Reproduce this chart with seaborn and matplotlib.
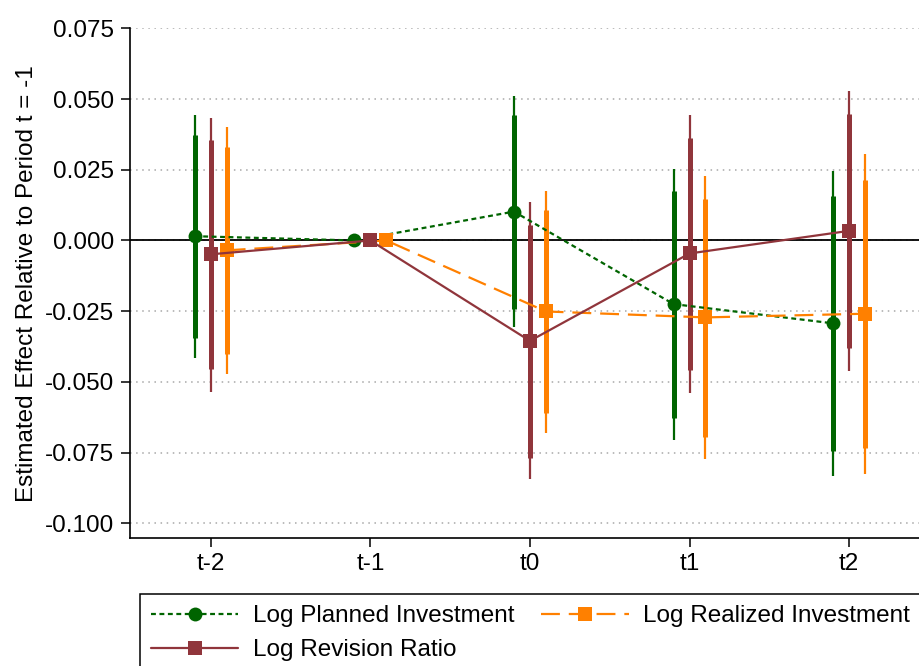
import numpy as np
import pandas as pd
import matplotlib
matplotlib.use("Agg")
import matplotlib.pyplot as plt
from matplotlib.lines import Line2D
import seaborn as sns

# ---------------- data ----------------
periods = ["t-2", "t-1", "t0", "t1", "t2"]

planned_b    = [0.0015, 0.0, 0.0102, -0.0225, -0.0293]
planned_lo90 = [-0.0345, 0.0, -0.0241, -0.0626, -0.0745]
planned_hi90 = [0.0373, 0.0, 0.0444, 0.0174, 0.0158]
planned_lo95 = [-0.0414, 0.0, -0.0306, -0.0704, -0.0832]
planned_hi95 = [0.0444, 0.0, 0.0509, 0.0252, 0.0246]

realized_b    = [-0.0035, 0.0, -0.0251, -0.0272, -0.0259]
realized_lo90 = [-0.0402, 0.0, -0.0610, -0.0694, -0.0733]
realized_hi90 = [0.0332, 0.0, 0.0106, 0.0148, 0.0214]
realized_lo95 = [-0.0473, 0.0, -0.0679, -0.0773, -0.0824]
realized_hi95 = [0.0402, 0.0, 0.0174, 0.0227, 0.0305]

revision_b    = [-0.0049, 0.0, -0.0355, -0.0046, 0.0034]
revision_lo90 = [-0.0456, 0.0, -0.0768, -0.0459, -0.0380]
revision_hi90 = [0.0355, 0.0, 0.0056, 0.0362, 0.0447]
revision_lo95 = [-0.0535, 0.0, -0.0845, -0.0539, -0.0460]
revision_hi95 = [0.0433, 0.0, 0.0135, 0.0444, 0.0527]

series_names = ["Log Planned Investment", "Log Realized Investment", "Log Revision Ratio"]
yticks = [0.075, 0.050, 0.025, 0.000, -0.025, -0.050, -0.075, -0.100]

# ---------------- style ----------------
sns.set_theme(style="white")
plt.rcParams["font.family"] = ["Liberation Sans", "DejaVu Sans"]
plt.rcParams["text.color"] = "black"
plt.rcParams["axes.labelcolor"] = "black"
plt.rcParams["xtick.color"] = "black"
plt.rcParams["ytick.color"] = "black"
FS = 17.5

colors = {"Log Planned Investment": "#006400",
          "Log Realized Investment": "#FF8000",
          "Log Revision Ratio": "#90353B"}
offsets = {"Log Planned Investment": -0.1,
           "Log Realized Investment": 0.1,
           "Log Revision Ratio": 0.0}
markers = {"Log Planned Investment": "o",
           "Log Realized Investment": "s",
           "Log Revision Ratio": "s"}
dashes = {"Log Planned Investment": (2.2, 1.6),
          "Log Realized Investment": (8.5, 4.0),
          "Log Revision Ratio": ""}

series_data = {
    "Log Planned Investment": (planned_b, planned_lo90, planned_hi90, planned_lo95, planned_hi95),
    "Log Realized Investment": (realized_b, realized_lo90, realized_hi90, realized_lo95, realized_hi95),
    "Log Revision Ratio": (revision_b, revision_lo90, revision_hi90, revision_lo95, revision_hi95),
}

rows = []
for name, (b, lo90, hi90, lo95, hi95) in series_data.items():
    for i, p in enumerate(periods):
        rows.append({"series": name, "period": p, "x": i + offsets[name],
                     "b": b[i], "lo90": lo90[i], "hi90": hi90[i],
                     "lo95": lo95[i], "hi95": hi95[i]})
df = pd.DataFrame(rows)

fig = plt.figure(figsize=(9.2, 6.66), dpi=100)
ax = fig.add_axes([0.1416, 0.1917, 0.8584, 0.7658])

# grid lines
for yv in yticks:
    ax.axhline(yv, color="#a8a8a8", lw=1.1, ls=(0, (1, 3)), zorder=0)
ax.axhline(0, color="black", lw=1.3, zorder=1)

# confidence intervals
draw_order = ["Log Planned Investment", "Log Revision Ratio", "Log Realized Investment"]
for name in draw_order:
    d = df[df["series"] == name]
    ax.vlines(d["x"], d["lo95"], d["hi95"], color=colors[name], lw=1.6, zorder=2)
    ax.vlines(d["x"], d["lo90"], d["hi90"], color=colors[name], lw=3.6, zorder=2)

# point estimates with connecting lines
sns.lineplot(data=df, x="x", y="b", hue="series", style="series",
             hue_order=series_names, style_order=series_names,
             palette=colors, markers=markers, dashes=dashes,
             markersize=10, markeredgewidth=0, linewidth=1.6,
             sort=True, estimator=None, legend=False, ax=ax, zorder=3)

ax.set_xlim(-0.504, 4.444)
ax.set_ylim(-0.1053, 0.075)
ax.set_xticks(range(len(periods)))
ax.set_xticklabels(periods, fontsize=FS)
ax.set_yticks(yticks)
ax.set_yticklabels([f"{v:.3f}" for v in yticks], fontsize=FS)
ax.set_xlabel("")
ax.set_ylabel("Estimated Effect Relative to Period t = -1", fontsize=FS, labelpad=5)
ax.tick_params(axis="y", direction="out", length=6.5, width=1.1, color="black", pad=5, left=True)
ax.tick_params(axis="x", direction="out", length=6.5, width=1.1, color="black", pad=4, bottom=True)
for s in ["top", "right"]:
    ax.spines[s].set_visible(False)
for s in ["left", "bottom"]:
    ax.spines[s].set_color("black")
    ax.spines[s].set_linewidth(1.2)

# legend
order = ["Log Planned Investment", "Log Revision Ratio", "Log Realized Investment"]
handles = []
for n in order:
    if dashes[n]:
        h = Line2D([], [], color=colors[n], marker=markers[n], markersize=10,
                   markeredgewidth=0, lw=1.6, dashes=dashes[n])
    else:
        h = Line2D([], [], color=colors[n], marker=markers[n], markersize=10,
                   markeredgewidth=0, lw=1.6)
    handles.append(h)
leg = fig.legend(handles, order, ncol=2, loc="upper left",
                 bbox_to_anchor=(0.152, 0.108), fontsize=FS, frameon=True,
                 fancybox=False, framealpha=1, edgecolor="black",
                 handlelength=3.6, handletextpad=0.6, columnspacing=1.1,
                 labelspacing=0.5, borderpad=0.45, borderaxespad=0)
leg.get_frame().set_linewidth(1.1)

fig.savefig("out.png", dpi=100)
